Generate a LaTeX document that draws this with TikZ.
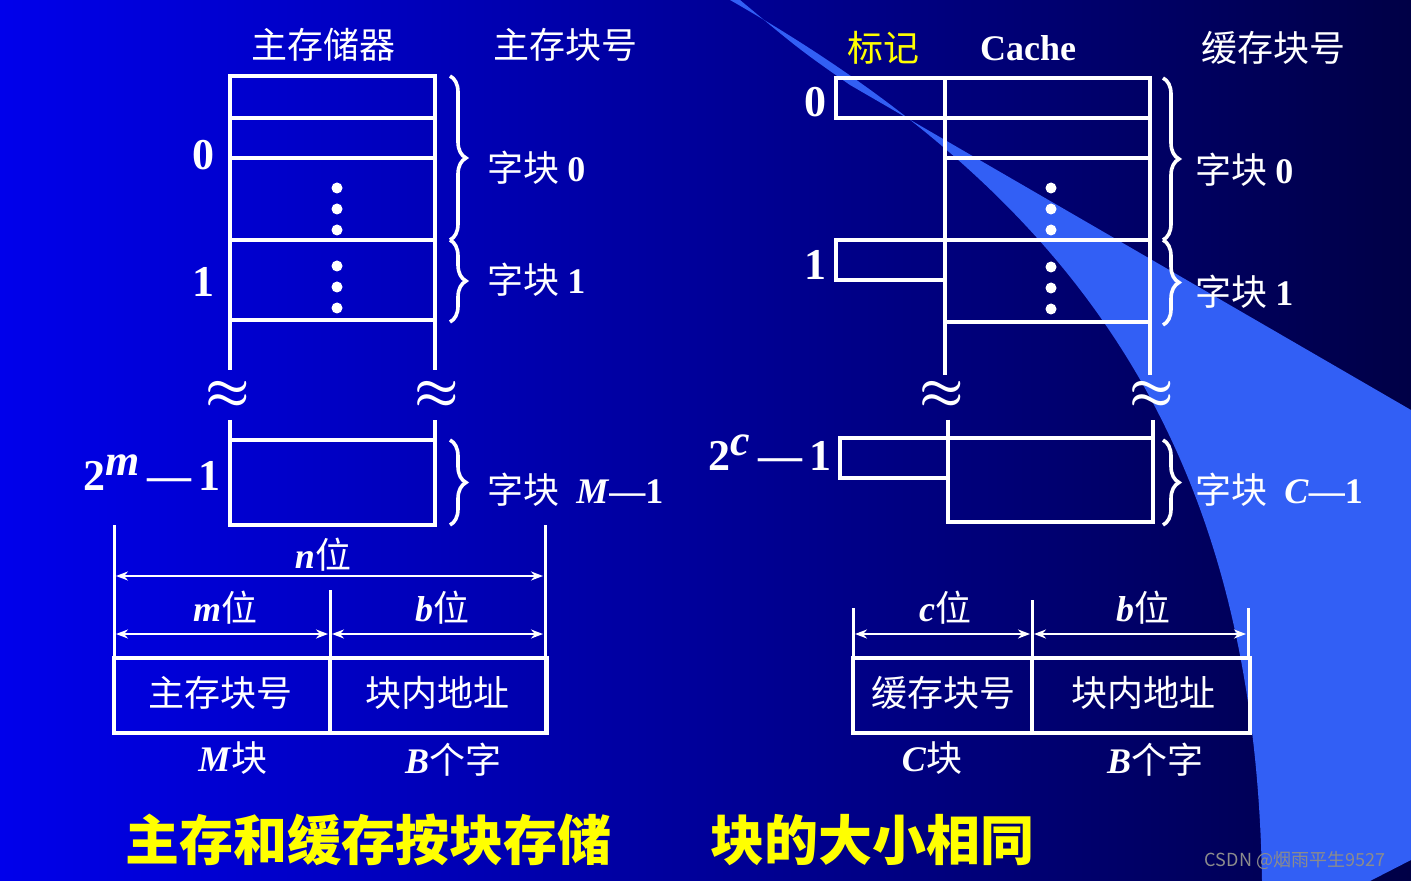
\documentclass[tikz,border=0pt]{standalone}
\usepackage{fontspec}
\setmainfont{Liberation Serif}
\newfontfamily\cjk{Noto Sans CJK SC}
\usetikzlibrary{decorations.pathreplacing,arrows.meta}
\definecolor{bgA}{RGB}{0,0,235}
\definecolor{bgB}{RGB}{0,0,70}
\definecolor{wedge}{RGB}{50,95,245}
\definecolor{yel}{RGB}{255,255,0}
\begin{document}
\begin{tikzpicture}[x=0.5pt,y=-0.5pt,
 ln/.style={white,line width=2pt},
 thin/.style={white,line width=1.5pt},
 arr/.style={white,line width=1.3pt,{Stealth[length=6pt]}-{Stealth[length=6pt]}},
 br/.style={white,line width=1.8pt,decorate,decoration={brace,amplitude=8pt}},
 t/.style={text=white,font=\fontsize{18}{20}\selectfont\bfseries,inner sep=0pt},
 big/.style={text=white,font=\fontsize{22}{24}\selectfont\bfseries,inner sep=0pt},
 apx/.style={text=white,font=\fontsize{30}{30}\selectfont\boldmath,inner sep=0pt},
 cj/.style={text=white,font=\fontsize{18}{20}\selectfont\cjk,inner sep=0pt},
 dot/.style={circle,fill=white,inner sep=0pt,minimum size=5.5pt}]
\useasboundingbox (0,0) rectangle (1411,881);
\shade[left color=bgA,right color=bgB] (0,0) rectangle (1411,881);
\fill[wedge] (730,0) .. controls (1080,200) and (1255,450) .. (1262,881) -- (1370,881) -- (1411,860) -- (1411,410) -- (850,85) .. controls (800,50) .. (740,0) -- cycle;
% headers
\node[cj] (h1) at (323,45) {主存储器};
\node[cj] (h2) at (565,45) {主存块号};
\node[cj,text=yel] (h3) at (883,48) {标记};
\node[t] (h4) at (1028,48) {Cache};
\node[cj] (h5) at (1273,48) {缓存块号};
% left memory
\draw[ln] (230,370) -- (230,76) -- (435,76) -- (435,370);
\foreach \y in {118,158,240,320} \draw[ln] (230,\y) -- (435,\y);
\draw[ln] (230,420) -- (230,525) -- (435,525) -- (435,420);
\draw[ln] (230,440) -- (435,440);
\foreach \y in {188,209,230,266,287,308} \node[dot] at (337,\y) {};
\node[apx] (bk1) at (228,395) {$\approx$};
\node[apx] (bk2) at (437,395) {$\approx$};
\node[big] (l0) at (203,155) {0};
\node[big] (l1) at (203,282) {1};
\node[big] (lm) at (152,473) {2$^{\textit{m}}$\,—\,1};
\draw[br] (450,76) -- (450,240);
\draw[br] (450,240) -- (450,322);
\draw[br] (450,440) -- (450,525);
\node[cj,anchor=west] (b0) at (487,168) {字块 {\bfseries\rmfamily 0}};
\node[cj,anchor=west] (b1) at (487,280) {字块 {\bfseries\rmfamily 1}};
\node[cj,anchor=west] (bM) at (487,490) {字块 {\bfseries\rmfamily ~\textit{M}—1}};
% left address
\draw[thin] (114,525) -- (114,735);
\draw[thin] (545,525) -- (545,735);
\draw[thin] (330,590) -- (330,658);
\draw[arr] (116,576) -- (543,576);
\draw[arr] (116,634) -- (328,634);
\draw[arr] (332,634) -- (543,634);
\node[t] (nw) at (323,555) {\textit{n}\cjk\mdseries 位};
\node[t] (mw) at (225,608) {\textit{m}\cjk\mdseries 位};
\node[t] (bw) at (442,608) {\textit{b}\cjk\mdseries 位};
\draw[ln] (114,658) rectangle (547,733);
\draw[ln] (330,658) -- (330,733);
\node[cj] (a1) at (220,693) {主存块号};
\node[cj] (a2) at (437,693) {块内地址};
\node[t] (a3) at (233,758) {\textit{M}\cjk\mdseries 块};
\node[t] (a4) at (453,760) {\textit{B}\cjk\mdseries 个字};
% right cache
\draw[ln] (945,375) -- (945,78) -- (1150,78) -- (1150,375);
\foreach \y in {118,158,240,322} \draw[ln] (945,\y) -- (1150,\y);
\draw[ln] (945,78) -- (836,78) -- (836,118) -- (945,118);
\draw[ln] (945,240) -- (836,240) -- (836,280) -- (945,280);
\draw[ln] (948,420) -- (948,522) -- (1153,522) -- (1153,420);
\draw[ln] (948,438) -- (1153,438);
\draw[ln] (948,438) -- (840,438) -- (840,478) -- (948,478);
\foreach \y in {188,209,230,267,288,309} \node[dot] at (1051,\y) {};
\node[apx] (bk3) at (942,395) {$\approx$};
\node[apx] (bk4) at (1152,395) {$\approx$};
\node[big] (r0) at (815,102) {0};
\node[big] (r1) at (815,265) {1};
\node[big] (rc) at (770,453) {2$^{\textit{c}}$\,—\,1};
\draw[br] (1163,78) -- (1163,240);
\draw[br] (1163,240) -- (1163,325);
\draw[br] (1163,440) -- (1163,525);
\node[cj,anchor=west] (c0) at (1195,170) {字块 {\bfseries\rmfamily 0}};
\node[cj,anchor=west] (c1) at (1195,292) {字块 {\bfseries\rmfamily 1}};
\node[cj,anchor=west] (cC) at (1195,490) {字块 {\bfseries\rmfamily ~\textit{C}—1}};
% right address
\draw[thin] (853,608) -- (853,658);
\draw[thin] (1032,600) -- (1032,658);
\draw[thin] (1248,608) -- (1248,658);
\draw[arr] (855,634) -- (1030,634);
\draw[arr] (1034,634) -- (1246,634);
\node[t] (cw) at (945,608) {\textit{c}\cjk\mdseries 位};
\node[t] (bw2) at (1143,608) {\textit{b}\cjk\mdseries 位};
\draw[ln] (853,658) rectangle (1250,733);
\draw[ln] (1032,658) -- (1032,733);
\node[cj] (d1) at (943,693) {缓存块号};
\node[cj] (d2) at (1143,693) {块内地址};
\node[t] (d3) at (932,758) {\textit{C}\cjk\mdseries 块};
\node[t] (d4) at (1155,760) {\textit{B}\cjk\mdseries 个字};
% bottom
\node[cj,text=yel,font=\fontsize{27}{30}\selectfont\cjk\bfseries] (s1) at (368,840) {主存和缓存按块存储};
\node[cj,text=yel,font=\fontsize{27}{30}\selectfont\cjk\bfseries] (s2) at (872,840) {块的大小相同};
\node[text=black!45,font=\fontsize{9}{10}\selectfont\cjk,inner sep=0pt] (wm) at (1295,860) {CSDN @烟雨平生9527};
\end{tikzpicture}
\end{document}
